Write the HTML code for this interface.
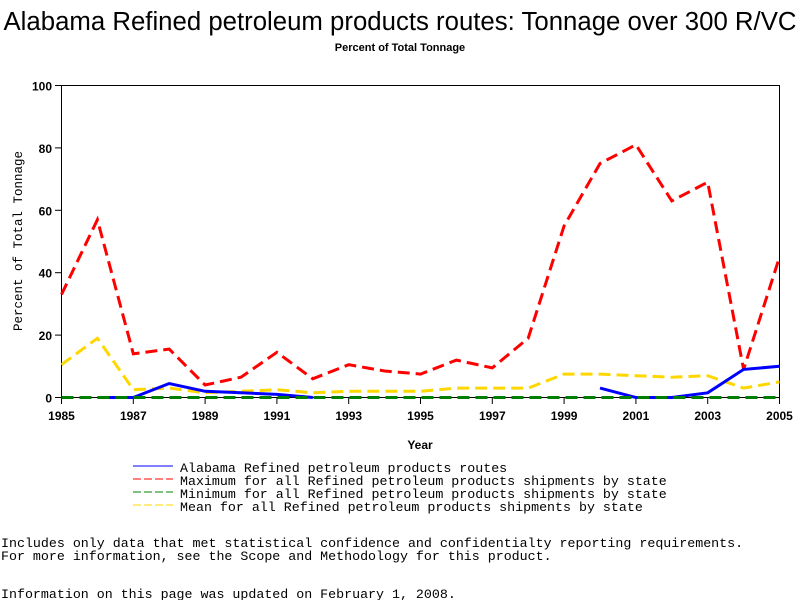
<!DOCTYPE html>
<html><head><meta charset="utf-8"><style>
body{margin:0;background:#fff;width:800px;height:600px;overflow:hidden}
svg text{font-family:"Liberation Sans",sans-serif}
svg text.m, svg .m text{font-family:"Liberation Mono",monospace}
</style></head><body>
<svg id="c" width="800" height="600">
<text x="400" y="30" font-size="25.5" text-anchor="middle" textLength="793" lengthAdjust="spacingAndGlyphs">Alabama Refined petroleum products routes: Tonnage over 300 R/VC</text>
<text x="400" y="51" font-size="11" font-weight="bold" text-anchor="middle">Percent of Total Tonnage</text>
<rect x="61.5" y="85.5" width="718" height="312" fill="none" stroke="#000"/>
<g id="axes"></g>
<g id="series"></g>
<text x="420" y="449" font-size="12" font-weight="bold" text-anchor="middle">Year</text>
<text class="m" transform="translate(22,241) rotate(-90)" font-size="12.5" text-anchor="middle">Percent of Total Tonnage</text>
<g class="m" font-size="13.3">
<line x1="133" y1="466" x2="173" y2="466" stroke="#0000ff"/>
<text x="180" y="472">Alabama Refined petroleum products routes</text>
<line x1="133" y1="479" x2="173" y2="479" stroke="#ff0000" stroke-dasharray="8,3"/>
<text x="180" y="485">Maximum for all Refined petroleum products shipments by state</text>
<line x1="133" y1="492" x2="173" y2="492" stroke="#008000" stroke-dasharray="8,3"/>
<text x="180" y="498">Minimum for all Refined petroleum products shipments by state</text>
<line x1="133" y1="505" x2="173" y2="505" stroke="#ffd700" stroke-dasharray="8,3"/>
<text x="180" y="511">Mean for all Refined petroleum products shipments by state</text>
</g>
<g class="m" font-size="13.3">
<text x="1" y="547">Includes only data that met statistical confidence and confidentialty reporting requirements.</text>
<text x="1" y="560">For more information, see the Scope and Methodology for this product.</text>
<text x="1" y="598">Information on this page was updated on February 1, 2008.</text>
</g>
</svg>
<script>
const years=[1985,1986,1987,1988,1989,1990,1991,1992,1993,1994,1995,1996,1997,1998,1999,2000,2001,2002,2003,2004,2005];
const maxVals=[33,57,14,15.5,4,6.5,14.5,6,10.5,8.5,7.5,12,9.5,19,55,75,81,63,69,9,45];
const meanVals=[10.5,19,2.5,3,1.5,2,2.5,1.5,2,2,2,3,3,3,7.5,7.5,7,6.5,7,3,5];
const minVals=[0,0,0,0,0,0,0,0,0,0,0,0,0,0,0,0,0,0,0,0,0];
const alabamaVals=[null,0,0,4.5,2,1.5,1,0,null,null,null,null,null,null,null,3,0,0,1.5,9,10];
const yTicks=[0,20,40,60,80,100];
const xTicks=[1985,1987,1989,1991,1993,1995,1997,1999,2001,2003,2005];
const NS="http://www.w3.org/2000/svg";
const xS=v=>61.5+(v-1985)/20*718, yS=v=>397.5-v/100*312;
const axes=document.getElementById('axes'), ser=document.getElementById('series');
function mk(t,a,p){const e=document.createElementNS(NS,t);for(const k in a)e.setAttribute(k,a[k]);p.appendChild(e);return e;}
yTicks.forEach(v=>{
 const l=mk('line',{x1:55,x2:61.5,y1:yS(v),y2:yS(v),stroke:'#000'},axes);
 
 
 const t=mk('text',{x:52,y:yS(v)+5,'font-size':12,'font-weight':'bold','text-anchor':'end'},axes);t.textContent=v;
 
 
});
xTicks.forEach(v=>{
 const l=mk('line',{x1:xS(v),x2:xS(v),y1:397.5,y2:404,stroke:'#000'},axes);
 
 
 const t=mk('text',{x:xS(v),y:420,'font-size':12,'font-weight':'bold','text-anchor':'middle'},axes);t.textContent=v;
 
 
});
function line(vals,color,dash,w,name){
 let d='',pen=false;
 vals.forEach((v,i)=>{if(v===null){pen=false;return;}d+=(pen?'L':'M')+xS(years[i]).toFixed(1)+','+yS(v).toFixed(1);pen=true;});
 const p=mk('path',{d:d,fill:'none',stroke:color,'stroke-width':w},ser);
 if(dash)p.setAttribute('stroke-dasharray',dash);
 
 
}
line(meanVals,'#ffd700','12,6',3,'series-mean');
line(maxVals,'#ff0000','12,6',3,'series-maximum');
line(alabamaVals,'#0000ff',null,3,'series-alabama');
line(minVals,'#008000','12,6',3,'series-minimum');
</script>
</body></html>
